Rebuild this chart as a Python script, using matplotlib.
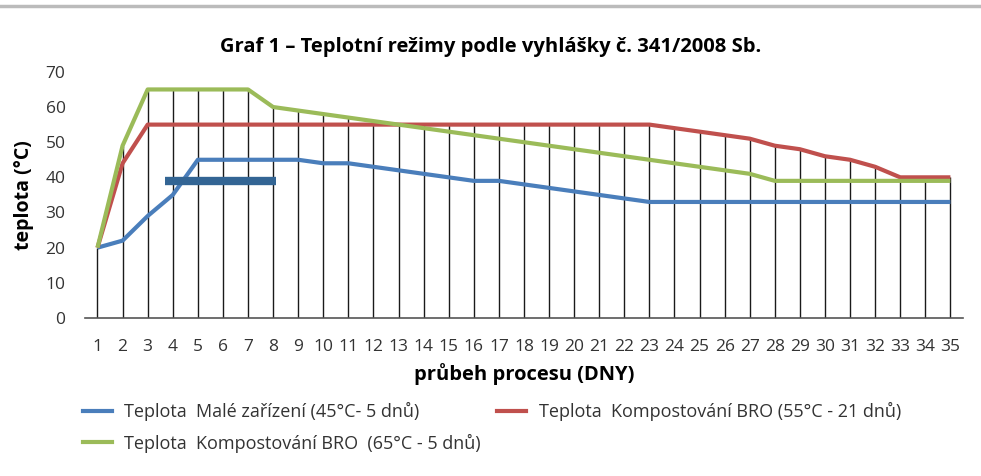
import numpy as np
import matplotlib.pyplot as plt
from matplotlib.lines import Line2D

# data
days = list(range(1, 36))
male_zarizeni = [20, 22, 29, 35, 45, 45, 45, 45, 45, 44, 44, 43, 42, 41, 40, 39, 39, 38,
                 37, 36, 35, 34, 33, 33, 33, 33, 33, 33, 33, 33, 33, 33, 33, 33, 33]
bro_55 = [20, 44, 55, 55, 55, 55, 55, 55, 55, 55, 55, 55, 55, 55, 55, 55, 55, 55,
          55, 55, 55, 55, 55, 54, 53, 52, 51, 49, 48, 46, 45, 43, 40, 40, 40]
bro_65 = [20, 49, 65, 65, 65, 65, 65, 60, 59, 58, 57, 56, 55, 54, 53, 52, 51, 50,
          49, 48, 47, 46, 45, 44, 43, 42, 41, 39, 39, 39, 39, 39, 39, 39, 39]
# the thick dark bar drawn over the chart
bar_level = 39
bar_span = [3.7, 8.1]

labels = ["Teplota  Malé zařízení (45°C- 5 dnů)",
          "Teplota  Kompostování BRO (55°C - 21 dnů)",
          "Teplota  Kompostování BRO  (65°C - 5 dnů)"]
colors = ["#4A7EBB", "#C0504D", "#9BBB59"]

plt.rcParams['font.family'] = ['Open Sans', 'DejaVu Sans']

fig = plt.figure(figsize=(9.81, 4.76), dpi=100)
ax = fig.add_axes([0.0866, 0.332, 0.895, 0.517])

# svislé čáry od osy k nejvyšší hodnotě
top = np.maximum(np.maximum(male_zarizeni, bro_55), bro_65)
ax.vlines(days, 0, top, color="#1a1a1a", lw=1, zorder=1)

series = [male_zarizeni, bro_55, bro_65]
for s, c in zip(series, colors):
    ax.plot(days, s, color=c, lw=3, solid_capstyle='butt', zorder=3)

ax.plot(bar_span, [bar_level, bar_level], color="#336594", lw=6, solid_capstyle='butt', zorder=4)

ax.set_xlim(0.5, 35.5)
ax.set_ylim(0, 70)
ax.set_xticks(days)
ax.set_yticks(range(0, 71, 10))
ax.tick_params(length=0, labelsize=12.5, colors="#333333")
ax.tick_params(axis='x', pad=15)
ax.tick_params(axis='y', pad=14)
for sp in ['top', 'right', 'left']:
    ax.spines[sp].set_visible(False)
ax.spines['bottom'].set_color("#555555")
ax.spines['bottom'].set_linewidth(1.2)

ax.set_xlabel("průbeh procesu (DNY)", fontsize=14.5, fontweight='bold', labelpad=6)
ax.set_ylabel("teplota (°C)", fontsize=14, fontweight='bold', labelpad=8)

fig.text(0.5, 0.901, "Graf 1 – Teplotní režimy podle vyhlášky č. 341/2008 Sb.",
         ha='center', va='center', fontsize=14.5, fontweight='bold')

# horní šedá linka
fig.add_artist(Line2D([0, 1], [0.987, 0.987], transform=fig.transFigure, color="#bbbbbb", lw=2.5))

handles = [Line2D([], [], color=c, lw=3) for c in colors]
order = [0, 2, 1]
fig.legend([handles[i] for i in order], [labels[i] for i in order], ncol=2,
           loc='upper left', bbox_to_anchor=(0.068, 0.19), frameon=False,
           fontsize=13, handlelength=1.6, handletextpad=0.7, columnspacing=0.9,
           labelspacing=0.7, labelcolor="#333333")

fig.savefig("out.png", dpi=100)
